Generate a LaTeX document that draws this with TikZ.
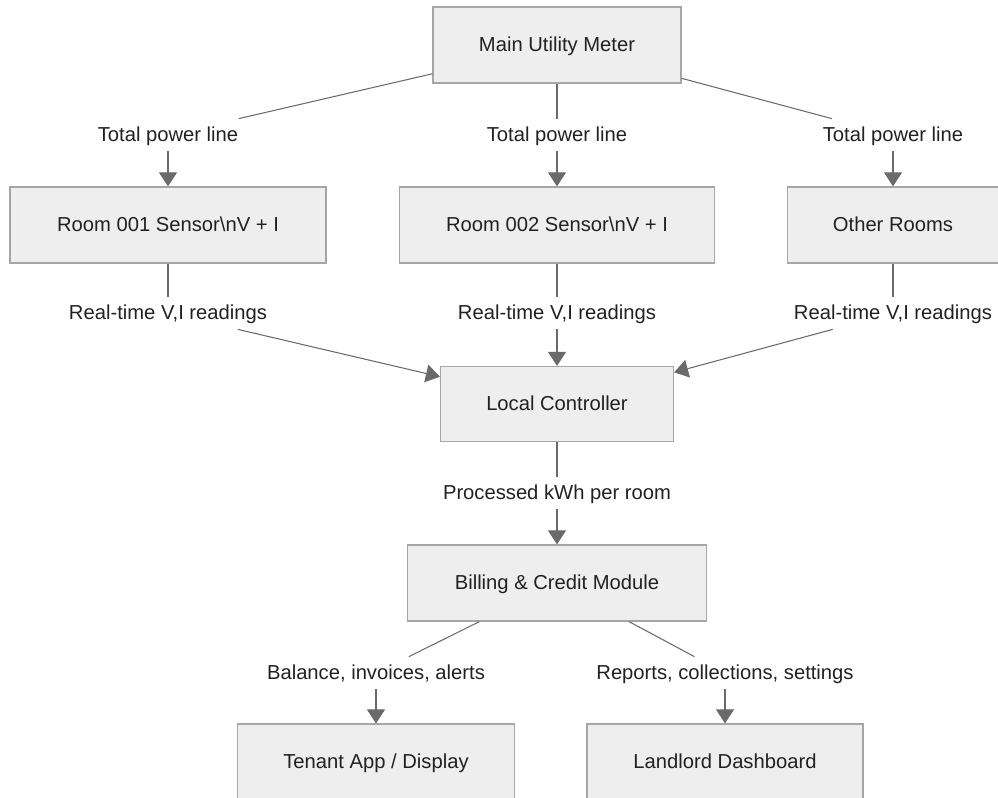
\documentclass[tikz,border=0pt]{standalone}
\usepackage{fontspec}
\setmainfont{Liberation Sans}
\usepackage{xcolor}
\usepackage{tikz}
\usetikzlibrary{shapes,arrows.meta,positioning}

\definecolor{boxfill}{HTML}{EEEEEE}
\definecolor{boxline}{HTML}{A6A6A6}
\definecolor{edgeline}{HTML}{6A6A6A}

\tikzset{
    box/.style={rectangle, draw=boxline, fill=boxfill, line width=0.7pt, inner sep=0pt, minimum height=1.52cm, text height=0.95em, text depth=0.2em},
    lbl/.style={rectangle, inner xsep=3pt, inner ysep=0pt, minimum height=0.64cm, text height=0.95em, text depth=0.2em},
    link/.style={draw=edgeline, line width=0.6pt},
    flow/.style={link, -{Triangle[length=0.28cm, width=0.36cm]}}
}

\begin{document}
\begin{tikzpicture}[x=0.02cm, y=-0.02cm, font=\fontsize{11.5}{14}\selectfont, text=black!87]
    \clip (0,0) rectangle (998,798);

    \node (main) [box, minimum width=4.96cm] at (557,45) {Main Utility Meter};
    \node (room1) [box, minimum width=6.32cm] at (168,225) {Room 001 Sensor\textbackslash nV + I};
    \node (room2) [box, minimum width=6.3cm] at (557,225) {Room 002 Sensor\textbackslash nV + I};
    \node (others) [box, minimum width=4.22cm] at (893,225) {Other Rooms};
    \node (ctrl) [box, minimum width=4.66cm, minimum height=1.5cm] at (557,404) {Local Controller};
    \node (billing) [box, minimum width=5.98cm] at (557,583) {Billing \& Credit Module};
    \node (tenant) [box, minimum width=5.54cm] at (376,762) {Tenant App / Display};
    \node (landlord) [box, minimum width=5.52cm] at (725,762) {Landlord Dashboard};

    \node (pw1) [lbl] at (168,135) {Total power line};
    \node (pw2) [lbl] at (557,135) {Total power line};
    \node (pw3) [lbl] at (893,135) {Total power line};
    \node (rd1) [lbl] at (168,313) {Real-time V,I readings};
    \node (rd2) [lbl] at (557,313) {Real-time V,I readings};
    \node (rd3) [lbl] at (893,313) {Real-time V,I readings};
    \node (kwh) [lbl] at (557,493) {Processed kWh per room};
    \node (bal) [lbl] at (376,673) {Balance, invoices, alerts};
    \node (rep) [lbl] at (725,673) {Reports, collections, settings};

    % meter to rooms
    \draw [link] (main) -- (pw1);
    \draw [flow] (pw1) -- (room1);
    \draw [link] (main) -- (pw2);
    \draw [flow] (pw2) -- (room2);
    \draw [link] (main) -- (pw3);
    \draw [flow] (pw3) -- (others);

    % rooms to controller
    \draw [link] (room1) -- (rd1);
    \draw [flow] (rd1) -- (ctrl);
    \draw [link] (room2) -- (rd2);
    \draw [flow] (rd2) -- (ctrl);
    \draw [link] (others) -- (rd3);
    \draw [flow] (rd3) -- (ctrl);

    \draw [link] (ctrl) -- (kwh);
    \draw [flow] (kwh) -- (billing);

    % billing outputs
    \draw [link] (billing) -- (bal);
    \draw [flow] (bal) -- (tenant);
    \draw [link] (billing) -- (rep);
    \draw [flow] (rep) -- (landlord);
\end{tikzpicture}
\end{document}
